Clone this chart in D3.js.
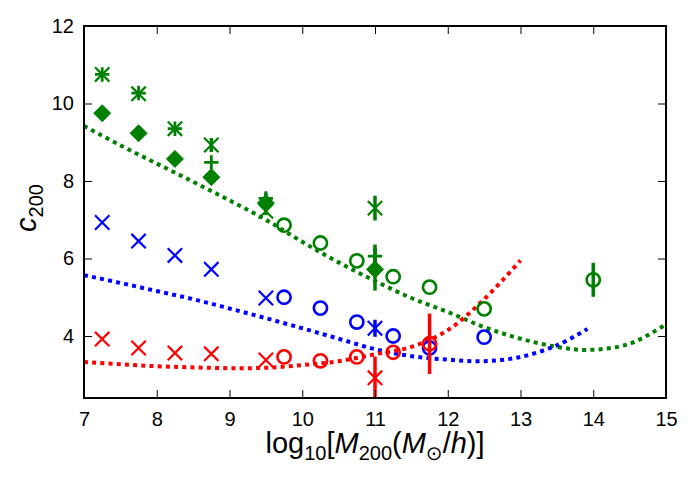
<!DOCTYPE html>
<html>
<head>
<meta charset="utf-8">
<script src="https://cdn.jsdelivr.net/npm/d3@7"></script>
<style>
  html, body { margin: 0; padding: 0; background: #fff; }
  svg { display: block; }
  text { font-family: "Liberation Sans", Arial, Helvetica, sans-serif; fill: #000; }
</style>
</head>
<body>
<svg id="chart" width="692" height="482"></svg>
<script>
// ---------- data ----------
const xTickValues = [7, 8, 9, 10, 11, 12, 13, 14, 15];
const yTickValues = [4, 6, 8, 10, 12];

// low-mass points (cross / plus / diamond markers)
const lowMass = [7.25, 7.75, 8.25, 8.75, 9.5, 11];
const greenCross = [10.75, 10.25, 9.35, 8.93, 7.22, 7.3];
const greenCrossErr = [0, 0, 0, 0.18, 0.1, 0.32];
const greenPlus = [10.75, 10.27, 9.35, 8.48, 7.55, 6.06];
const greenPlusErr = [0, 0, 0, 0, 0.15, 0.3];
const greenDiamond = [9.75, 9.23, 8.57, 8.1, 7.43, 5.72];
const greenDiamondErr = [0, 0, 0, 0, 0.2, 0.55];
const blueCross = [6.93, 6.45, 6.08, 5.72, 4.98, 4.2];
const blueCrossErr = [0, 0, 0, 0, 0, 0.22];
const redCross = [3.92, 3.69, 3.56, 3.54, 3.38, 2.92];
const redCrossErr = [0, 0, 0, 0, 0, 0.55];

// circle markers
const circleMass = [9.75, 10.25, 10.75, 11.25, 11.75, 12.5, 14];
const greenCircle = [6.86, 6.4, 5.94, 5.53, 5.26, 4.7, 5.45];
const greenCircleErr = [0, 0, 0, 0, 0, 0, 0.44];
const blueCircle = [5.0, 4.72, 4.36, 4.0, 3.69, 3.97];
const redCircle = [3.46, 3.36, 3.46, 3.58, 3.8];
const redCircleErr = [0, 0, 0, 0, 0.78];

// dotted model curves
const curveMass = [7, 7.5, 8, 8.5, 9, 9.5, 10, 10.5, 11, 11.5, 12, 12.5, 13, 13.5, 13.92, 14.5, 15];
const greenCurve = [9.42, 8.92, 8.45, 7.98, 7.5, 7.0, 6.43, 5.9, 5.42, 4.98, 4.62, 4.23, 3.93, 3.72, 3.64, 3.8, 4.3];
const blueCurve = [5.57, 5.37, 5.16, 4.95, 4.71, 4.46, 4.2, 3.93, 3.66, 3.48, 3.39, 3.35, 3.46, 3.76, 4.18];
const redCurve = [3.33, 3.27, 3.22, 3.19, 3.17, 3.18, 3.25, 3.35, 3.53, 3.72, 4.15, 4.95, 5.95];

const GREEN = "#008000", BLUE = "#0000ff", RED = "#ff0000";

// ---------- layout ----------
const svg = d3.select("#chart");
const L = 84, R = 666, T = 26, B = 398;
const x = d3.scaleLinear().domain([7, 15]).range([L, R]);
const y = d3.scaleLinear().domain([2.4, 12]).range([B, T]);

const defs = svg.append("defs");
defs.append("clipPath").attr("id", "clip")
  .append("rect").attr("x", L).attr("y", T).attr("width", R - L).attr("height", B - T);

const plot = svg.append("g").attr("clip-path", "url(#clip)");

// curves
const line = d3.line().x(d => x(d[0])).y(d => y(d[1])).curve(d3.curveCatmullRom);
function drawCurve(vals, color) {
  const pts = vals.map((v, i) => [curveMass[i], v]);
  plot.append("path").attr("d", line(pts))
    .attr("fill", "none").attr("stroke", color)
    .attr("stroke-width", 4).attr("stroke-dasharray", "4,4.2");
}
drawCurve(greenCurve, GREEN);
drawCurve(blueCurve, BLUE);
drawCurve(redCurve, RED);

// error bars
function errorBars(xs, ys, errs, color) {
  ys.forEach((v, i) => {
    const e = errs[i];
    if (!e) return;
    plot.append("line")
      .attr("x1", x(xs[i])).attr("x2", x(xs[i]))
      .attr("y1", y(v - e)).attr("y2", y(v + e))
      .attr("stroke", color).attr("stroke-width", 3.5);
  });
}

// markers
function crosses(xs, ys, color) {
  const s = 7.2;
  ys.forEach((v, i) => {
    const cx = x(xs[i]), cy = y(v);
    plot.append("path")
      .attr("d", `M${cx - s},${cy - s}L${cx + s},${cy + s}M${cx - s},${cy + s}L${cx + s},${cy - s}`)
      .attr("stroke", color).attr("stroke-width", 2.2).attr("fill", "none");
  });
}
function pluses(xs, ys, color) {
  const s = 7.2;
  ys.forEach((v, i) => {
    const cx = x(xs[i]), cy = y(v);
    plot.append("path")
      .attr("d", `M${cx - s},${cy}L${cx + s},${cy}M${cx},${cy - s}L${cx},${cy + s}`)
      .attr("stroke", color).attr("stroke-width", 2.8).attr("fill", "none");
  });
}
function diamonds(xs, ys, color) {
  const s = 8.5;
  ys.forEach((v, i) => {
    const cx = x(xs[i]), cy = y(v);
    plot.append("path")
      .attr("d", `M${cx},${cy - s}L${cx + s},${cy}L${cx},${cy + s}L${cx - s},${cy}Z`)
      .attr("fill", color).attr("stroke", color).attr("stroke-width", 1);
  });
}
function circles(xs, ys, color) {
  ys.forEach((v, i) => {
    plot.append("circle")
      .attr("cx", x(xs[i])).attr("cy", y(v)).attr("r", 6.6)
      .attr("fill", "none").attr("stroke", color).attr("stroke-width", 2.6);
  });
}

// red
errorBars(lowMass, redCross, redCrossErr, RED);
crosses(lowMass, redCross, RED);
// blue
errorBars(lowMass, blueCross, blueCrossErr, BLUE);
crosses(lowMass, blueCross, BLUE);
circles(circleMass, blueCircle, BLUE);
errorBars(circleMass, redCircle, redCircleErr, RED);
circles(circleMass, redCircle, RED);
// green
errorBars(lowMass, greenCross, greenCrossErr, GREEN);
crosses(lowMass, greenCross, GREEN);
errorBars(lowMass, greenPlus, greenPlusErr, GREEN);
pluses(lowMass, greenPlus, GREEN);
errorBars(lowMass, greenDiamond, greenDiamondErr, GREEN);
diamonds(lowMass, greenDiamond, GREEN);
errorBars(circleMass, greenCircle, greenCircleErr, GREEN);
circles(circleMass, greenCircle, GREEN);

// ---------- axes ----------
const tickLen = 8;
const axB = svg.append("g").attr("transform", `translate(0,${B})`)
  .call(d3.axisBottom(x).tickValues(xTickValues).tickSizeInner(-tickLen).tickSizeOuter(0).tickPadding(14).tickFormat(d3.format("d")));
const axT = svg.append("g").attr("transform", `translate(0,${T})`)
  .call(d3.axisTop(x).tickValues(xTickValues).tickSizeInner(-tickLen).tickSizeOuter(0).tickFormat(""));
const axL = svg.append("g").attr("transform", `translate(${L},0)`)
  .call(d3.axisLeft(y).tickValues(yTickValues).tickSizeInner(-tickLen).tickSizeOuter(0).tickPadding(10).tickFormat(d3.format("d")));
const axR = svg.append("g").attr("transform", `translate(${R},0)`)
  .call(d3.axisRight(y).tickValues(yTickValues).tickSizeInner(-tickLen).tickSizeOuter(0).tickFormat(""));
[axB, axT, axL, axR].forEach(a => {
  a.select(".domain").remove();
  a.selectAll(".tick line").attr("stroke", "#000").attr("stroke-width", 1);
  a.selectAll(".tick text").attr("font-size", 20).attr("font-family", "'Liberation Sans', Arial, sans-serif").attr("fill", "#000");
});

// frame
svg.append("rect").attr("x", L).attr("y", T).attr("width", R - L).attr("height", B - T)
  .attr("fill", "none").attr("stroke", "#000").attr("stroke-width", 2);

// ---------- axis labels ----------
const xl = svg.append("text").attr("x", (L + R) / 2).attr("y", 453)
  .attr("text-anchor", "middle").attr("font-size", 29);
xl.append("tspan").text("log");
xl.append("tspan").attr("font-size", 20).attr("dy", 7).text("10");
xl.append("tspan").attr("dy", -7).text("[");
xl.append("tspan").attr("font-style", "italic").text("M");
xl.append("tspan").attr("font-size", 20).attr("dy", 7).text("200");
xl.append("tspan").attr("dy", -7).text("(");
xl.append("tspan").attr("font-style", "italic").text("M");
xl.append("tspan").attr("font-size", 20).attr("dy", 7).attr("font-family", "'DejaVu Sans', sans-serif").text("\u2299");
xl.append("tspan").attr("dy", -7).text("/");
xl.append("tspan").attr("font-style", "italic").text("h");
xl.append("tspan").text(")]");

const yl = svg.append("text")
  .attr("transform", `translate(36,${(T + B) / 2 - 4}) rotate(-90)`)
  .attr("text-anchor", "middle").attr("font-size", 29);
yl.append("tspan").attr("font-style", "italic").text("c");
yl.append("tspan").attr("font-size", 20).attr("dy", 7).text("200");
</script>
</body>
</html>
